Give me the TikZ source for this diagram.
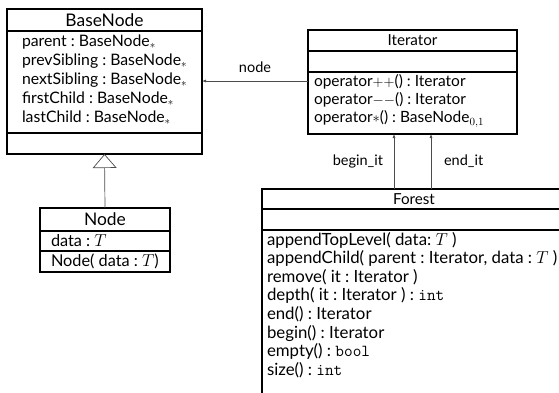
\documentclass[tikz,border=0pt]{standalone}
\usepackage[no-math]{fontspec}
\setmainfont{Lato}
\usetikzlibrary{arrows.meta}
\begin{document}
\begin{tikzpicture}[x=1pt,y=-1pt,
  every node/.style={inner sep=0pt, outer sep=0pt, execute at begin node=\frenchspacing},
  box/.style={draw=black, line width=1.4pt, anchor=north west},
  list/.style={anchor=west, align=left},
  ftitleA/.style={font=\fontsize{17.4}{19}\selectfont},
  ftitleB/.style={font=\fontsize{15.2}{17}\selectfont},
  fbase/.style={font=\fontsize{15.8}{19}\selectfont},
  fiter/.style={font=\fontsize{15.5}{18}\selectfont},
  fnode/.style={font=\fontsize{16.3}{19}\selectfont},
  fforest/.style={font=\fontsize{16.8}{18.6}\selectfont},
  lbl/.style={font=\fontsize{14.5}{16}\selectfont},
  assoc/.style={draw=black!70, line width=0.7pt, -{Latex[length=4pt,width=3pt]}},
  inherit/.style={draw=black!70, line width=0.7pt, -{Triangle[open,length=14pt,width=24pt,fill=white]}}
]
\useasboundingbox (0,0) rectangle (559,392);
\clip (0,0) rectangle (559,392);

% BaseNode class
\node[box, ftitleA, minimum width=195pt, minimum height=22pt] (bn-title) at (7,9) {BaseNode};
\node[box, minimum width=195pt, minimum height=102pt] (bn-attr) at (bn-title.south west) {};
\node[box, minimum width=195pt, minimum height=21pt] (bn-ops) at (bn-attr.south west) {};
\node[list, fbase] (bn-attr-text) at ([xshift=15pt,yshift=2pt]bn-attr.west)
  {parent : BaseNode$_*$\\
   prevSibling : BaseNode$_*$\\
   nextSibling : BaseNode$_*$\\
   firstChild : BaseNode$_*$\\
   lastChild : BaseNode$_*$};

% Iterator class
\node[box, ftitleB, minimum width=209pt, minimum height=21pt] (it-title) at (308,30) {Iterator};
\node[box, minimum width=209pt, minimum height=21pt] (it-attr) at (it-title.south west) {};
\node[box, minimum width=209pt, minimum height=62pt] (it-ops) at (it-attr.south west) {};
\node[list, fiter] (it-ops-text) at ([xshift=6pt,yshift=2pt]it-ops.west)
  {operator$++$() : Iterator\\
   operator$--$() : Iterator\\
   operator$*$() : BaseNode$_{0,1}$};

% Node class
\node[box, ftitleA, minimum width=130pt, minimum height=23pt] (nd-title) at (40,208) {Node};
\node[box, minimum width=130pt, minimum height=20pt] (nd-attr) at (nd-title.south west) {};
\node[box, minimum width=130pt, minimum height=21pt] (nd-ops) at (nd-attr.south west) {};
\node[list, fnode] (nd-attr-text) at ([xshift=11pt]nd-attr.west) {data : $T$};
\node[list, fnode] (nd-ops-text) at ([xshift=11pt]nd-ops.west) {Node( data : $T$)};

% Forest class
\node[box, ftitleB, minimum width=304pt, minimum height=20pt] (fo-title) at (262,189) {Forest};
\node[box, minimum width=304pt, minimum height=21pt] (fo-attr) at (fo-title.south west) {};
\node[box, minimum width=304pt, minimum height=200pt] (fo-ops) at (fo-attr.south west) {};
\node[list, fforest] (fo-ops-text) at ([xshift=5pt,yshift=-75pt]fo-ops.north west)
  {appendTopLevel( data: $T$ )\\
   appendChild( parent : Iterator, data : $T$ )\\
   remove( it : Iterator )\\
   depth( it : Iterator ) : \texttt{int}\\
   end() : Iterator\\
   begin() : Iterator\\
   empty() : \texttt{bool}\\
   size() : \texttt{int}};

% Associations
\draw[assoc] ([yshift=-9pt]it-ops.north west) coordinate (n-start)
  -- (n-start -| bn-attr.east) node[lbl, midway, above=8pt] {node};
\draw[assoc] ([xshift=132pt]fo-title.north west) coordinate (b-start)
  -- (b-start |- it-ops.south) node[lbl, midway, left=11pt] {begin\_it};
\draw[assoc] ([xshift=169pt]fo-title.north west) coordinate (e-start)
  -- (e-start |- it-ops.south) node[lbl, midway, right=13pt] {end\_it};

% Generalisation
\draw[inherit] (nd-title.north) -- (bn-ops.south);
\end{tikzpicture}
\end{document}
